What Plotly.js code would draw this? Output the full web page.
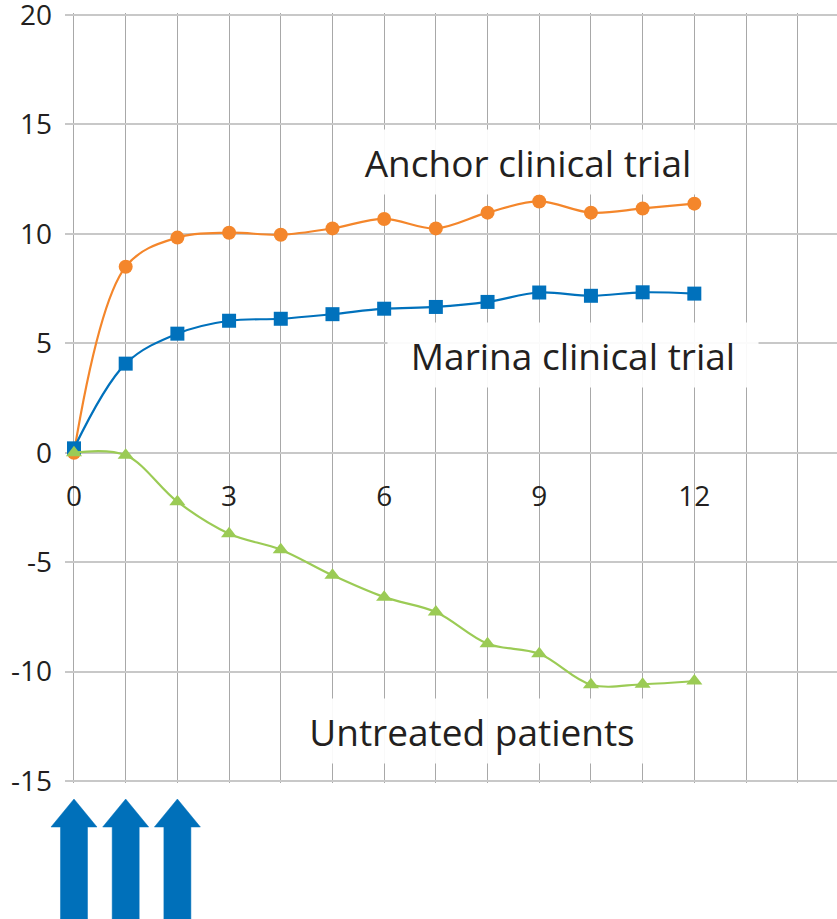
<!DOCTYPE html>
<html>
<head>
<meta charset="utf-8">
<script src="https://cdn.plot.ly/plotly-3.0.1.min.js"></script>
<style>html,body{margin:0;padding:0;background:#fff;}#chart{width:837px;height:919px;}</style>
</head>
<body>
<div id="chart"></div>
<script>
const months = [0,1,2,3,4,5,6,7,8,9,10,11,12];
const anchor = [0, 8.5, 9.83, 10.05, 9.96, 10.25, 10.68, 10.25, 10.97, 11.48, 10.97, 11.16, 11.38];
const marina = [0.2, 4.07, 5.44, 6.03, 6.12, 6.33, 6.58, 6.66, 6.89, 7.32, 7.17, 7.33, 7.27];
const untreated = [0, -0.12, -2.24, -3.7, -4.43, -5.6, -6.6, -7.28, -8.73, -9.19, -10.6, -10.58, -10.43];
const xTickVals = [0,1,2,3,4,5,6,7,8,9,10,11,12,13,14,15];
const xTickText = ['0','','','3','','','6','','','9','','','12','','','15'];
const yTickVals = [-15,-10,-5,0,5,10,15,20];
const yTickText = ['-15','-10','-5','0','5','10','15','20'];
const injectionMonths = [0,1,2];
const labels = [
  {text:'Anchor clinical trial', x:8.78, y:13.3},
  {text:'Marina clinical trial', x:9.65, y:4.45},
  {text:'Untreated patients', x:7.7, y:-12.7}
];

const FONT = '"Open Sans", "Noto Sans", sans-serif';
const TXT = '#231f20';
const X_RANGE = [-0.174, 14.76];

const traces = [
  {x:months, y:anchor, type:'scatter', mode:'lines+markers', name:'Anchor',
   line:{color:'#f4862b', width:2.2, shape:'spline', smoothing:1},
   marker:{symbol:'circle', size:14, color:'#f4862b'}},
  {x:months, y:marina, type:'scatter', mode:'lines+markers', name:'Marina',
   line:{color:'#0071bc', width:2.2, shape:'spline', smoothing:1},
   marker:{symbol:'square', size:14, color:'#0071bc'}},
  {x:months, y:untreated, type:'scatter', mode:'lines+markers', name:'Untreated',
   line:{color:'#9bcb55', width:2.2, shape:'spline', smoothing:1},
   marker:{symbol:'triangle-up', size:14, color:'#9bcb55'}}
];

// arrows placed at the injection months, converted through the x range (paper ref to avoid clipping)
const toPaper = m => (m - X_RANGE[0]) / (X_RANGE[1] - X_RANGE[0]);
const arrowPath = 'M-23,-44L0,-16L23,-44L13.5,-44L13.5,-136L-13.5,-136L-13.5,-44Z';
const shapes = injectionMonths.map(m => ({
  type:'path', xref:'paper', yref:'paper', xsizemode:'pixel', ysizemode:'pixel',
  xanchor:toPaper(m), yanchor:0, path:arrowPath, fillcolor:'#0070ba', line:{color:'#0070ba', width:0.5}
}));

const annotations = labels.map(l => ({
  text:l.text, x:l.x, y:l.y, xref:'x', yref:'y', showarrow:false,
  font:{family:FONT, size:37, color:TXT},
  bgcolor:'rgba(255,255,255,0.93)', borderpad:4, width:362, height:56
}));

const layout = {
  width:837, height:919,
  margin:{l:65, r:0, t:13, b:136},
  paper_bgcolor:'#fff', plot_bgcolor:'#fff',
  showlegend:false,
  font:{family:FONT, color:TXT},
  xaxis:{range:X_RANGE, tickvals:xTickVals, ticktext:xTickText,
    showgrid:true, gridcolor:'#a8a8a8', gridwidth:1, zeroline:false, showline:false,
    ticks:'', anchor:'free', position:(15 + 2/21.886)/(35 + 4/21.886), ticklabelstandoff:24,
    ticklabeloverflow:'allow',
    tickfont:{family:FONT, size:28, color:TXT}},
  yaxis:{range:[-15 - 2/21.886, 20 + 2/21.886], tickvals:yTickVals, ticktext:yTickText,
    showgrid:true, gridcolor:'#c8c8c8', gridwidth:2, zeroline:true, zerolinecolor:'#c8c8c8', zerolinewidth:2,
    showline:false, ticks:'', ticklabelstandoff:12, ticklabeloverflow:'allow',
    tickfont:{family:FONT, size:28, color:TXT}},
  shapes:shapes,
  annotations:annotations
};

Plotly.newPlot('chart', traces, layout, {displayModeBar:false, staticPlot:true});
</script>
</body>
</html>
